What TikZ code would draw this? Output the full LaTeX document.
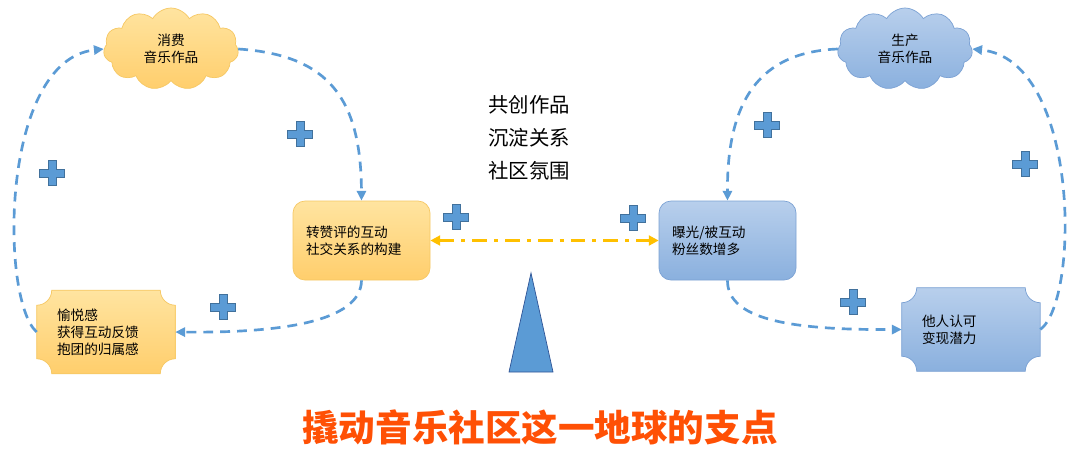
\documentclass[tikz,border=0pt]{standalone}
\usepackage{fontspec}
\newfontfamily\cjk{Noto Sans CJK SC}
\usetikzlibrary{arrows.meta, calc, positioning, shapes.symbols, backgrounds}
\definecolor{warmtop}{RGB}{255, 228, 160}
\definecolor{warmbot}{RGB}{255, 206, 108}
\definecolor{warmedge}{RGB}{246, 200, 100}
\definecolor{cooltop}{RGB}{184, 207, 236}
\definecolor{coolbot}{RGB}{138, 176, 222}
\definecolor{cooledge}{RGB}{124, 162, 212}
\definecolor{linkblue}{RGB}{91, 155, 213}
\definecolor{plusedge}{RGB}{65, 113, 156}
\definecolor{fulcrumedge}{RGB}{47, 85, 151}
\definecolor{gold}{RGB}{255, 192, 0}
\definecolor{titlered}{RGB}{255, 80, 5}
\newcommand{\px}{0.025cm}
\newcommand{\plaquepath}[1]{%
  ($(#1.north west)+(0.375cm,0)$) -- ($(#1.north east)+(-0.375cm,0)$)
  arc[start angle=180, end angle=270, radius=0.375cm]
  -- ($(#1.south east)+(0,0.375cm)$)
  arc[start angle=90, end angle=180, radius=0.375cm]
  -- ($(#1.south west)+(0.375cm,0)$)
  arc[start angle=0, end angle=90, radius=0.375cm]
  -- ($(#1.north west)+(0,-0.375cm)$)
  arc[start angle=270, end angle=360, radius=0.375cm] -- cycle}
\tikzset{
  boxtext/.style={font=\cjk\fontsize{9.7}{12}\selectfont},
  warmcloud/.style={cloud, cloud puffs=11, cloud puff arc=120, cloud ignores aspect,
    minimum width=135*\px, minimum height=82*\px, align=center, boxtext,
    top color=warmtop, bottom color=warmbot, draw=warmedge, line width=0.5pt},
  coolcloud/.style={warmcloud, top color=cooltop, bottom color=coolbot, draw=cooledge},
  warmbox/.style={rounded corners=0.3cm, text width=111*\px, inner xsep=13*\px,
    minimum height=79*\px, align=left, boxtext,
    top color=warmtop, bottom color=warmbot, draw=warmedge, line width=0.5pt},
  coolbox/.style={warmbox, top color=cooltop, bottom color=coolbot, draw=cooledge},
  plaque/.style={text width=98*\px, inner xsep=20*\px, minimum height=83*\px,
    align=left, boxtext},
  flow/.style={linkblue, line width=1.9pt, dash pattern=on 7pt off 5pt,
    -{Triangle[length=7pt, width=6.5pt]}},
  plussign/.style={fill=linkblue, draw=plusedge, line width=0.4pt},
}
\begin{document}
\begin{tikzpicture}[x=\px, y=-\px]
  \useasboundingbox (0,0) rectangle (1080,456);

  %--- clouds ---
  \node[warmcloud] (consume) at (171,49) {消费\\音乐作品};
  \node[coolcloud] (produce) at (905,49) {生产\\音乐作品};

  %--- middle boxes ---
  \node[warmbox] (social) at (361.5,240.5) {转赞评的互动\\社交关系的构建};
  \node[coolbox] (exposure) at (727.5,240.5) {曝光/被互动\\粉丝数增多};

  %--- plaques ---
  \node[plaque] (joy) at (106,332) {愉悦感\\获得互动反馈\\抱团的归属感};
  \node[plaque] (approval) at (971,329.5) {他人认可\\变现潜力};
  \begin{scope}[on background layer]
    \fill[white] (0,0) rectangle (1080,456);
    \draw[top color=warmtop, bottom color=warmbot, draw=warmedge, line width=0.5pt]
      \plaquepath{joy};
    \draw[top color=cooltop, bottom color=coolbot, draw=cooledge, line width=0.5pt]
      \plaquepath{approval};
  \end{scope}

  %--- loops ---
  \draw[flow] (joy.west) .. controls (0,300) and (0,60) .. (consume.west);
  \draw[flow] (consume.east) .. controls (330,55) and (361,100) .. (social.north);
  \draw[flow] (social.south) .. controls (361,322) and (280,333) .. (joy.east);
  \draw[flow] (produce.west) .. controls (760,52) and (727,100) .. (exposure.north);
  \draw[flow] (exposure.south) .. controls (727,322) and (800,330) .. (approval.west);
  \draw[flow] (approval.east) .. controls (1080,300) and (1080,60) .. (produce.east);

  %--- lever ---
  \draw[gold, line width=2pt, dash pattern=on 10.5pt off 5pt on 2.8pt off 5pt,
        {Triangle[length=7pt, width=7pt]}-{Triangle[length=7pt, width=7pt]}]
    (social.east) -- (exposure.west);
  \draw[fill=linkblue, draw=fulcrumedge, line width=0.5pt]
    (531,273) -- (553,372) -- (509,372) -- cycle;

  %--- plus signs ---
  \foreach \cx/\cy in {52/173, 300/134, 223/307, 456/217, 633/218,
                       767/125, 853/302, 1025/164}
    \draw[plussign, shift={(\cx,\cy)}]
      (-4,-12.5) -- (4,-12.5) -- (4,-4) -- (12.5,-4) -- (12.5,4) -- (4,4)
      -- (4,12.5) -- (-4,12.5) -- (-4,4) -- (-12.5,4) -- (-12.5,-4) -- (-4,-4) -- cycle;

  %--- texts ---
  \node[font=\cjk\fontsize{14.5}{23.4}\selectfont, align=left] (gains) at (529,137.5)
    {共创作品\\沉淀关系\\社区氛围};
  \node[font=\cjk\bfseries\fontsize{26}{30}\selectfont, text=titlered] (motto) at (540,427)
    {撬动音乐社区这一地球的支点};
\end{tikzpicture}
\end{document}
